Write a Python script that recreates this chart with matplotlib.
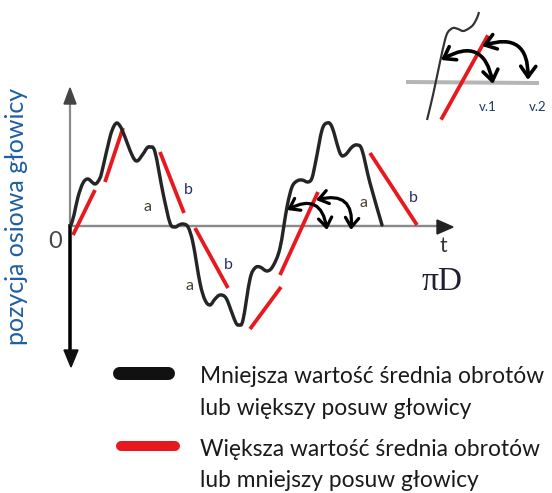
import numpy as np
import matplotlib.pyplot as plt
from matplotlib.patches import FancyArrowPatch, Polygon, PathPatch
from matplotlib.path import Path

# Schemat rysowany w ukladzie pikseli obrazka (x w prawo, y w dol)
PX = 0.72  # 1 px -> pt przy dpi=100

# Krzywa czarna (mniejsza wartosc srednia obrotow)
curve_x = [71, 74, 78, 83, 88, 95, 100, 103, 110, 114, 117, 120, 123, 132, 137, 143, 147, 150, 155,
           163, 170, 175, 179, 183, 188, 193, 200, 205, 210, 215, 220, 226, 232, 236, 239, 243,
           250, 255, 260, 267, 273, 280, 287, 292, 297, 302, 308, 312, 316, 322, 327, 332, 340,
           345, 352, 357, 362, 370, 382]
curve_y = [225, 215, 197, 183, 179, 184, 178, 167, 137, 126, 123, 126, 132, 155, 161, 154, 148, 147, 152,
           193, 223, 227, 225, 224, 227, 243, 283, 300, 305, 299, 295, 298, 313, 323, 325, 320,
           279, 268, 267, 271, 266, 248, 207, 187, 181, 180, 182, 178, 160, 130, 123, 127, 153,
           155, 147, 145, 150, 183, 225]

# Odcinki czerwone (wieksza wartosc srednia obrotow)
red_segments = [((73, 235), (95, 190)), ((105, 182), (123, 128)), ((160, 152), (184, 213)),
                ((195, 228), (228, 288)), ((250, 329), (281, 287)), ((280, 275), (318, 192)),
                ((370, 153), (417, 225))]

# Etykiety a / b
a_labels = [(148, 207), (189, 286), (363, 203)]
b_labels = [(188, 190), (228, 265), (413, 198)]

# Strzalki zakrzywione (glowny wykres i wstawka)
main_arrows = [((287, 210), (327, 230)), ((316, 200), (351, 230))]

# Wstawka w prawym gornym rogu
inset_curve_x = [427, 433, 440, 445, 448, 453, 458, 463, 468, 473, 477, 479]
inset_curve_y = [120, 95, 62, 40, 32, 28, 29, 31, 29, 25, 18, 12]
inset_red = ((442, 118), (487, 37))
inset_axis = ((408, 82), (537, 83))
inset_arrows = [((441, 60), (493, 84)), ((482, 46), (528, 80))]
inset_labels = [("v.1", (488, 107)), ("v.2", (538, 107))]

# Legenda
legend_lines = [["Mniejsza wartość średnia obrotów", "lub większy posuw głowicy"],
                ["Większa wartość średnia obrotów", "lub mniejszy posuw głowicy"]]
legend_colors = ["#111111", "#e8191e"]

RED = "#e8191e"
FONT = "Lato"


def smooth_path(xs, ys):
    # Catmull-Rom -> krzywe Beziera (tylko do rysowania)
    pts = np.column_stack([xs, ys]).astype(float)
    verts = [pts[0]]
    codes = [Path.MOVETO]
    n = len(pts)
    for i in range(n - 1):
        p0 = pts[max(i - 1, 0)]
        p1 = pts[i]
        p2 = pts[i + 1]
        p3 = pts[min(i + 2, n - 1)]
        c1 = p1 + (p2 - p0) / 6.0
        c2 = p2 - (p3 - p1) / 6.0
        verts += [c1, c2, p2]
        codes += [Path.CURVE4] * 3
    return Path(verts, codes)


fig = plt.figure(figsize=(5.52, 4.93), dpi=100)
ax = fig.add_axes([0, 0, 1, 1])
ax.set_xlim(0, 552)
ax.set_ylim(493, 0)
ax.axis("off")

# osie
ax.plot([70, 70], [226, 102], color="#8a8a8a", lw=2.2 * PX, zorder=1)
ax.add_patch(Polygon([[70, 88], [64, 104], [76, 104]], closed=True, color="#444444", zorder=2))
ax.plot([70, 70], [226, 352], color="#000000", lw=3.5 * PX, zorder=3)
ax.add_patch(Polygon([[71, 367], [64, 350], [78, 350]], closed=True, color="#111111", zorder=3))
ax.plot([70, 439], [226, 226], color="#8a8a8a", lw=2.4 * PX, zorder=1)
ax.add_patch(Polygon([[453, 227], [437, 220], [437, 234]], closed=True, color="#222222", zorder=2))

# czerwone odcinki
for p0, p1 in red_segments:
    ax.plot([p0[0], p1[0]], [p0[1], p1[1]], color=RED, lw=3.8 * PX, solid_capstyle="butt", zorder=4)

# krzywa czarna
ax.add_patch(PathPatch(smooth_path(curve_x, curve_y), facecolor="none", edgecolor="#252525",
                       lw=3.4 * PX, joinstyle="round", capstyle="round", zorder=5))

for x, y in a_labels:
    ax.text(x, y, "a", fontsize=11.5, color="#4a4030", ha="center", va="center", family=FONT)
for x, y in b_labels:
    ax.text(x, y, "b", fontsize=11.5, color="#2b2d6b", ha="center", va="center", family=FONT)


# strzalki
def arc_arrow(p0, p1, rad, lw, scale):
    arr = FancyArrowPatch(p0, p1, connectionstyle="arc3,rad=%s" % rad,
                          arrowstyle="<->,head_length=0.45,head_width=0.32", mutation_scale=scale,
                          color="#000000", lw=lw, shrinkA=0, shrinkB=0, zorder=6,
                          joinstyle="round", capstyle="round")
    ax.add_patch(arr)


for p0, p1 in main_arrows:
    arc_arrow(p0, p1, -0.7, 3.2 * PX, 15)

# napisy przy osiach
ax.text(55, 241, "0", fontsize=17, color="#444444", ha="center", va="center", family=FONT)
ax.text(443, 246, "t", fontsize=15, color="#333333", ha="center", va="center", family=FONT)
ax.text(442, 282, "πD", fontsize=24, color="#202030", ha="center", va="center", family="Liberation Serif")
ax.text(17, 216, "pozycja osiowa głowicy", fontsize=18, color="#1f5ea3", rotation=90,
        ha="center", va="center", family=FONT)

# wstawka
ax.plot([inset_axis[0][0], inset_axis[1][0]], [inset_axis[0][1], inset_axis[1][1]],
        color="#b5b5b5", lw=4 * PX, zorder=1)
ax.add_patch(PathPatch(smooth_path(inset_curve_x, inset_curve_y), facecolor="none",
                       edgecolor="#333333", lw=2.2 * PX, zorder=5))
ax.plot([inset_red[0][0], inset_red[1][0]], [inset_red[0][1], inset_red[1][1]],
        color=RED, lw=3.8 * PX, zorder=4)
for p0, p1 in inset_arrows:
    arc_arrow(p0, p1, -0.7, 3.6 * PX, 17)
for txt, (x, y) in inset_labels:
    ax.text(x, y, txt, fontsize=9.5, color="#1f3864", ha="center", va="center", family=FONT)

# legenda
bar_y = [373, 446]
bar_x = [(119, 168), (121, 175)]
bar_w = [13, 10]
text_base = [(383, 415), (456, 487)]
for i in range(2):
    ax.plot(bar_x[i], [bar_y[i], bar_y[i]], color=legend_colors[i], lw=bar_w[i] * PX,
            solid_capstyle="round", zorder=3)
    for line, yb in zip(legend_lines[i], text_base[i]):
        ax.text(200, yb, line, fontsize=16.4, color="#1a1a1a", ha="left", va="baseline", family=FONT)

fig.savefig("out.png", dpi=100)
